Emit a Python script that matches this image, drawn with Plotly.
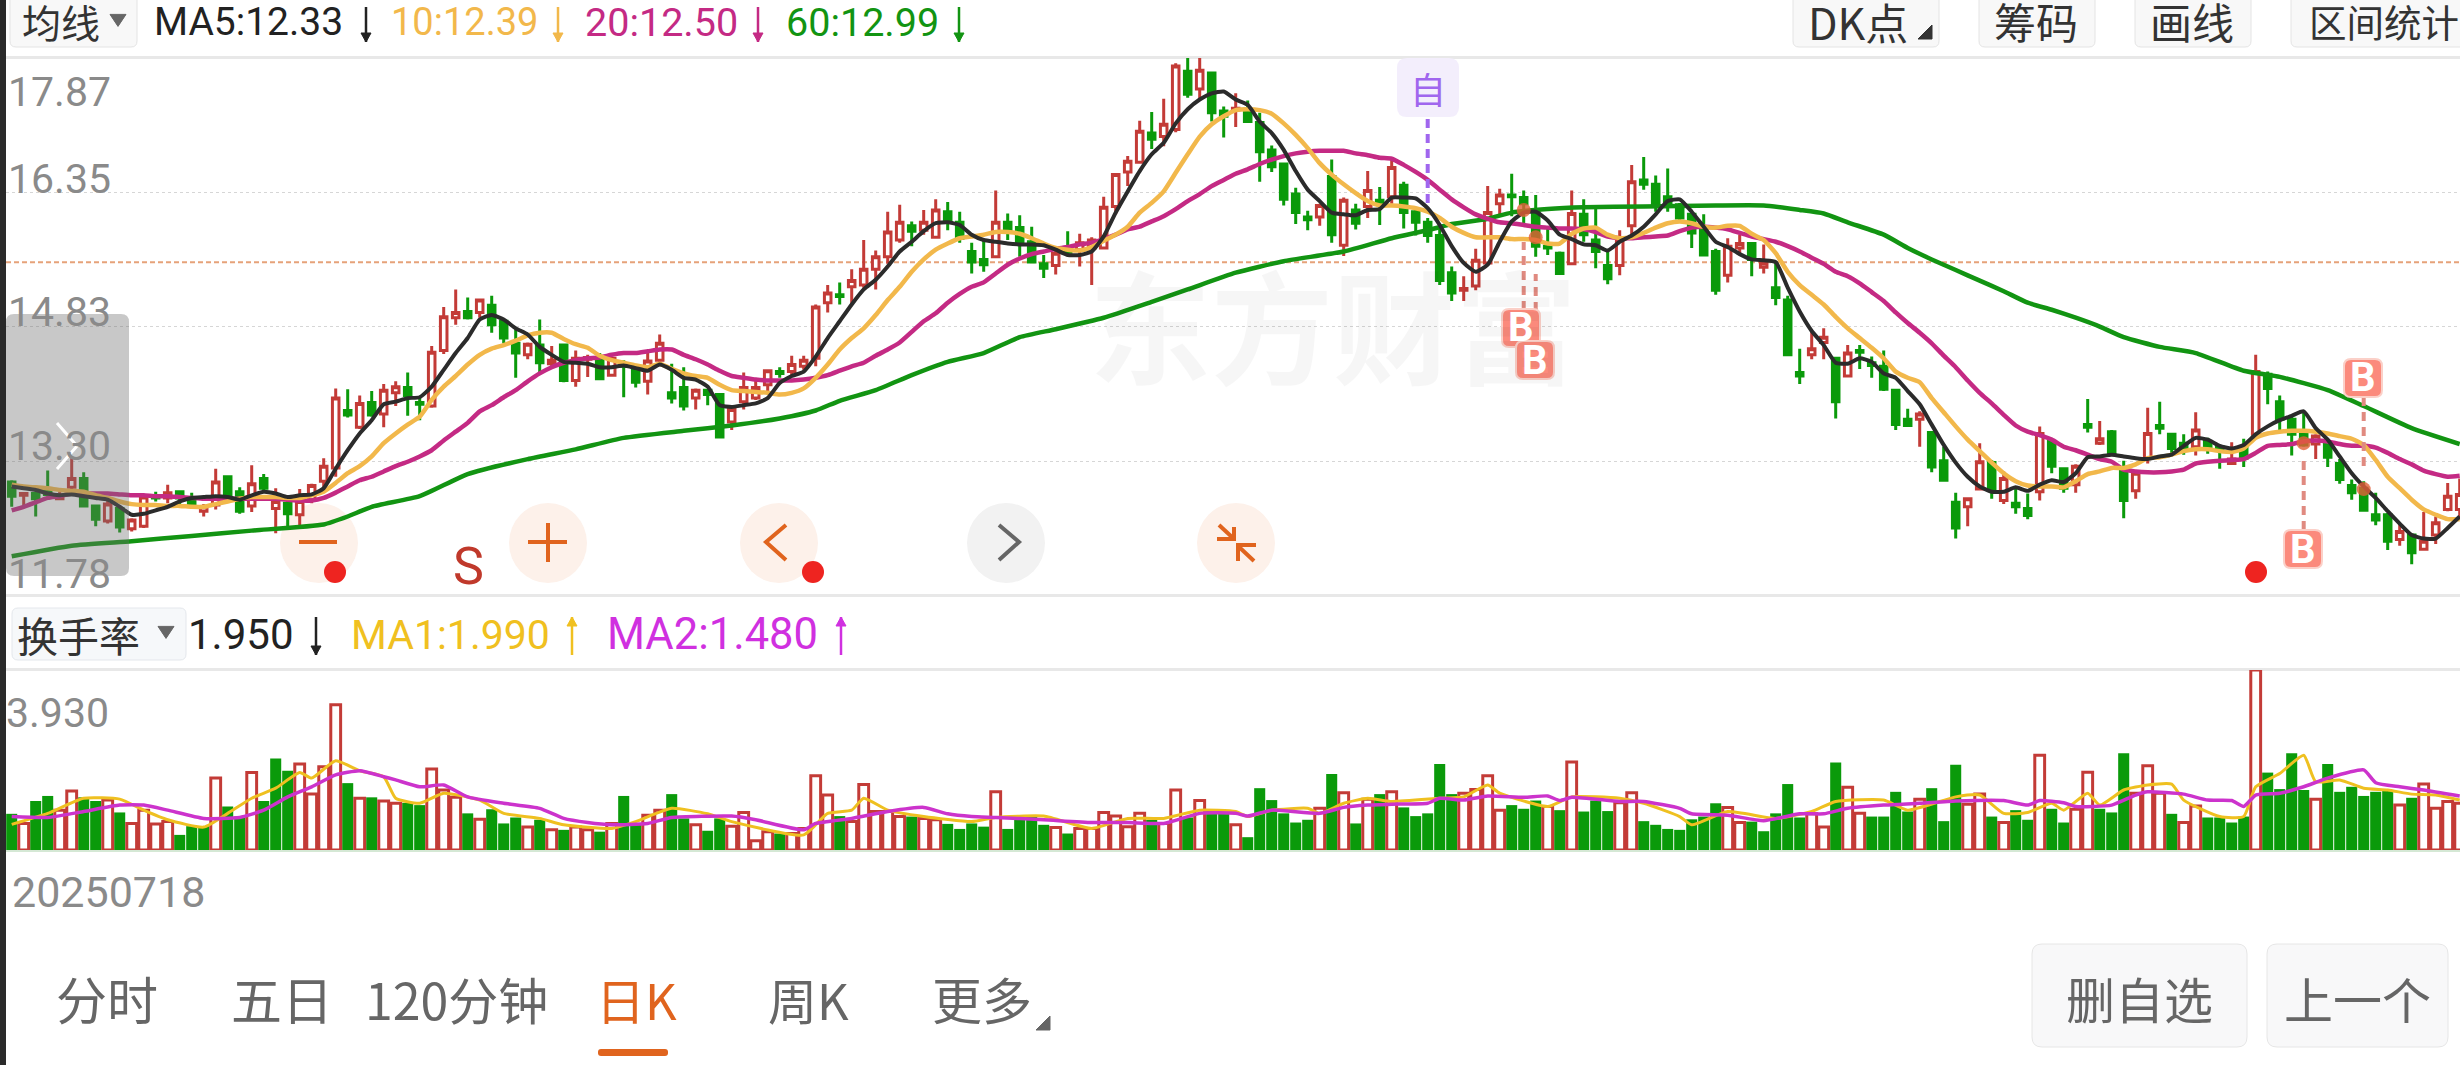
import plotly.graph_objects as go

W, H = 2460, 1065

open_ = [
13.07,12.92,12.94,12.98,12.88,13.01,13.11,12.80,12.63,12.77,
12.54,12.57,12.91,12.89,12.96,12.89,12.74,12.81,13.13,12.96,
12.80,13.11,12.77,12.83,12.70,12.87,13.08,13.23,13.88,13.69,
13.97,13.84,14.08,14.14,13.97,13.93,14.56,14.93,15.00,14.99,
15.07,14.89,14.64,14.51,14.62,14.41,14.62,14.22,14.46,14.46,
14.28,14.41,14.34,14.21,14.45,14.08,14.14,14.02,14.11,14.06,
13.75,13.98,14.02,14.17,14.32,14.32,14.38,14.47,15.10,15.19,
15.28,15.30,15.48,15.62,15.81,15.97,15.92,15.84,16.13,16.01,
15.68,15.59,15.62,16.01,15.95,15.79,15.54,15.52,15.70,15.70,
15.72,15.72,16.19,16.58,16.69,17.02,16.98,17.06,17.72,17.52,
17.70,17.27,17.28,17.29,17.14,16.83,16.67,16.33,16.07,16.07,
16.53,15.75,16.15,16.19,16.26,16.30,16.43,16.13,16.01,15.86,
15.44,15.24,15.29,15.55,16.22,16.32,16.29,16.13,15.74,15.66,
15.54,16.10,15.81,15.52,15.52,15.97,16.49,16.44,16.30,16.21,
16.10,15.93,15.68,15.41,15.72,15.77,15.50,15.27,15.13,14.31,
14.51,14.65,14.47,14.27,14.56,14.42,14.38,14.11,13.78,13.78,
13.63,13.31,12.84,12.79,12.99,13.29,12.86,12.83,12.77,12.96,
13.53,13.22,13.04,13.72,13.51,13.64,13.19,12.97,13.34,13.71,
13.61,13.51,13.47,13.53,13.47,13.28,13.45,13.61,14.29,13.98,
13.78,13.62,13.50,13.51,13.28,13.03,13.00,12.70,12.70,12.42,
12.47,12.31,12.47,12.76,12.76]
high = [
13.09,12.94,12.96,13.20,12.96,13.36,13.18,12.81,12.87,12.79,
12.66,12.92,12.96,13.04,12.97,12.95,12.82,13.22,13.14,13.01,
13.26,13.16,13.00,12.89,12.99,13.05,13.34,14.13,14.12,14.05,
14.10,14.18,14.21,14.31,14.02,14.61,15.05,15.25,15.16,15.14,
15.18,14.91,14.80,14.65,14.91,14.61,14.62,14.56,14.51,14.53,
14.48,14.45,14.36,14.53,14.74,14.41,14.37,14.13,14.11,14.07,
13.93,14.31,14.23,14.34,14.37,14.50,14.50,15.08,15.30,15.33,
15.48,15.81,15.69,16.13,16.21,16.02,16.15,16.27,16.24,16.13,
15.78,15.81,16.37,16.11,16.09,15.96,15.64,15.73,15.91,15.88,
15.84,16.30,16.56,16.76,17.16,17.26,17.41,17.81,17.87,17.87,
17.70,17.32,17.47,17.39,17.25,16.88,16.67,16.40,16.14,16.22,
16.72,16.29,16.22,16.59,16.41,16.72,16.47,16.16,16.06,15.96,
15.51,15.40,15.71,16.42,16.39,16.56,16.37,16.32,15.95,15.68,
16.37,16.27,16.16,15.68,15.92,16.66,16.75,16.54,16.62,16.23,
16.12,16.10,15.71,15.83,15.87,15.78,15.76,15.57,15.18,14.58,
14.78,14.81,14.48,14.62,14.62,14.49,14.56,14.12,13.90,13.87,
13.64,13.47,12.95,12.89,13.51,13.32,13.19,13.00,12.94,13.70,
13.55,13.22,13.27,14.01,13.76,13.66,13.31,13.19,13.91,13.98,
13.62,13.61,13.86,13.57,13.49,13.52,13.56,14.51,14.32,14.05,
13.83,13.87,13.61,13.54,13.33,13.10,13.08,12.95,12.72,12.60,
12.47,12.73,12.68,13.06,13.11]
low = [
12.79,12.81,12.68,12.91,12.87,12.96,12.79,12.57,12.60,12.50,
12.51,12.55,12.85,12.83,12.81,12.77,12.68,12.76,12.90,12.71,
12.73,12.98,12.49,12.57,12.58,12.83,12.98,13.13,13.80,13.67,
13.81,13.69,13.93,13.82,13.77,13.91,14.52,14.85,14.91,14.93,
14.76,14.64,14.25,14.46,14.31,14.38,14.20,14.15,14.26,14.23,
14.27,14.03,14.14,14.06,14.38,13.96,13.88,13.89,13.94,13.57,
13.66,13.89,14.00,14.08,14.25,14.27,14.34,14.38,14.99,15.08,
15.08,15.27,15.25,15.54,15.78,15.74,15.87,15.83,15.92,15.78,
15.43,15.45,15.62,15.81,15.62,15.55,15.38,15.42,15.64,15.51,
15.30,15.71,16.10,16.42,16.68,16.84,16.87,17.03,17.42,17.41,
17.15,16.97,17.09,17.14,16.47,16.58,16.20,15.99,15.92,15.97,
15.78,15.63,15.93,16.06,15.98,16.22,15.94,15.86,15.78,15.30,
15.12,15.12,15.24,15.53,16.08,16.08,15.96,15.62,15.64,15.42,
15.53,15.79,15.49,15.31,15.41,15.86,16.38,16.13,16.13,16.02,
15.72,15.63,15.19,15.33,15.66,15.40,15.43,15.07,14.50,14.18,
14.46,14.46,13.79,14.26,14.35,14.25,14.10,13.66,13.70,13.47,
13.18,13.08,12.43,12.57,12.98,12.88,12.82,12.71,12.65,12.86,
13.17,12.95,12.95,13.63,13.49,13.39,12.66,12.88,13.28,13.61,
13.40,13.38,13.37,13.39,13.22,13.28,13.24,13.61,13.95,13.66,
13.37,13.47,13.33,13.24,13.05,12.87,12.74,12.58,12.30,12.35,
12.14,12.30,12.37,12.74,12.64]
close = [
12.91,12.94,12.88,12.93,12.91,13.11,12.80,12.65,12.82,12.56,
12.64,12.90,12.89,12.95,12.89,12.81,12.79,13.07,12.91,12.74,
13.05,13.00,12.85,12.71,12.85,13.03,13.25,14.02,13.83,13.96,
13.83,14.11,14.15,14.05,13.95,14.54,14.94,14.99,14.93,15.13,
14.85,14.70,14.53,14.63,14.42,14.45,14.22,14.47,14.48,14.24,
14.47,14.38,14.20,14.44,14.64,14.02,13.93,14.11,14.06,13.58,
13.89,14.14,14.14,14.33,14.30,14.40,14.45,15.05,15.21,15.17,
15.35,15.48,15.62,15.90,16.01,15.91,16.01,16.15,16.02,15.83,
15.56,15.53,16.01,15.93,15.78,15.56,15.49,15.66,15.67,15.78,
15.81,16.18,16.55,16.70,17.04,16.95,17.12,17.78,17.46,17.73,
17.25,17.21,17.30,17.15,16.81,16.64,16.27,16.12,16.04,16.20,
15.87,16.26,16.00,16.37,16.23,16.63,16.12,16.01,15.86,15.35,
15.21,15.26,15.58,16.12,16.32,16.30,16.22,15.74,15.72,15.43,
16.11,15.87,15.68,15.37,15.82,16.47,16.44,16.19,16.20,16.06,
15.89,15.64,15.24,15.74,15.77,15.59,15.55,15.16,14.51,14.27,
14.58,14.71,13.98,14.53,14.54,14.39,14.12,13.72,13.71,13.84,
13.24,13.09,12.55,12.88,13.30,12.98,13.11,12.79,12.69,13.62,
13.25,13.00,13.25,13.69,13.56,13.40,12.86,13.17,13.62,13.68,
13.45,13.44,13.66,13.47,13.44,13.33,13.34,14.32,14.13,13.78,
13.61,13.49,13.59,13.35,13.10,12.95,12.75,12.64,12.40,12.51,
12.27,12.40,12.61,12.91,12.93]

ma5 = [
13.02,13.00,12.98,12.94,12.92,12.93,12.91,12.89,12.87,12.79,
12.70,12.71,12.75,12.79,12.85,12.89,12.90,12.91,12.90,12.87,
12.92,12.96,12.94,12.90,12.92,12.93,13.00,13.22,13.43,13.62,
13.77,13.95,13.98,14.02,14.03,14.15,14.34,14.53,14.70,14.91,
14.96,14.91,14.81,14.74,14.60,14.51,14.43,14.42,14.41,14.37,
14.37,14.39,14.36,14.33,14.40,14.34,14.25,14.23,14.15,13.94,
13.92,13.94,13.96,14.02,14.19,14.27,14.32,14.49,14.70,14.89,
15.08,15.25,15.36,15.51,15.68,15.79,15.91,16.00,16.01,15.98,
15.87,15.81,15.79,15.77,15.76,15.76,15.75,15.70,15.64,15.64,
15.68,15.85,16.12,16.36,16.59,16.78,16.91,17.13,17.29,17.40,
17.47,17.49,17.40,17.34,17.15,17.02,16.83,16.59,16.38,16.25,
16.12,16.10,16.09,16.15,16.16,16.29,16.29,16.28,16.17,15.98,
15.74,15.55,15.45,15.53,15.79,16.02,16.12,16.13,16.03,15.87,
15.82,15.76,15.75,15.69,15.79,15.86,15.96,16.10,16.25,16.27,
16.13,15.96,15.79,15.73,15.65,15.59,15.58,15.56,15.27,15.00,
14.78,14.62,14.42,14.41,14.47,14.43,14.30,14.25,14.10,13.95,
13.72,13.49,13.29,13.13,13.02,12.96,12.96,13.01,12.97,13.04,
13.09,13.07,13.17,13.35,13.36,13.38,13.36,13.34,13.33,13.36,
13.38,13.48,13.57,13.55,13.48,13.45,13.49,13.61,13.70,13.77,
13.82,13.87,13.68,13.55,13.36,13.17,13.02,12.89,12.74,12.60,
12.47,12.43,12.43,12.55,12.68]
ma10 = [
13.04,13.02,13.01,13.00,12.98,12.97,12.96,12.92,12.89,12.85,
12.82,12.81,12.81,12.80,12.80,12.79,12.79,12.82,12.85,12.88,
12.90,12.90,12.90,12.89,12.89,12.92,12.96,13.06,13.17,13.25,
13.36,13.51,13.62,13.72,13.81,14.00,14.15,14.27,14.40,14.51,
14.58,14.62,14.67,14.73,14.76,14.76,14.69,14.63,14.59,14.50,
14.45,14.42,14.39,14.37,14.41,14.35,14.30,14.27,14.25,14.17,
14.11,14.10,14.09,14.08,14.06,14.08,14.13,14.25,14.40,14.57,
14.70,14.81,14.96,15.13,15.28,15.45,15.59,15.70,15.77,15.83,
15.85,15.87,15.90,15.90,15.88,15.83,15.77,15.72,15.70,15.69,
15.73,15.80,15.87,15.96,16.12,16.23,16.36,16.57,16.78,16.98,
17.12,17.21,17.28,17.29,17.28,17.24,17.13,17.00,16.85,16.68,
16.55,16.44,16.34,16.25,16.20,16.20,16.19,16.17,16.13,16.06,
15.96,15.89,15.84,15.84,15.84,15.82,15.82,15.81,15.77,15.77,
15.88,15.94,15.95,15.87,15.83,15.84,15.89,15.95,16.00,16.02,
16.00,15.96,15.95,15.97,15.97,15.88,15.81,15.66,15.45,15.30,
15.19,15.08,14.94,14.81,14.70,14.59,14.47,14.32,14.25,14.20,
14.02,13.86,13.70,13.55,13.42,13.29,13.17,13.08,13.03,13.02,
13.02,13.01,13.08,13.16,13.19,13.23,13.23,13.27,13.34,13.35,
13.38,13.42,13.44,13.44,13.42,13.41,13.45,13.57,13.62,13.64,
13.65,13.65,13.64,13.62,13.59,13.56,13.49,13.32,13.13,13.00,
12.87,12.76,12.70,12.65,12.65]
ma20 = [
12.75,12.79,12.84,12.89,12.91,12.94,12.94,12.94,12.94,12.93,
12.92,12.92,12.91,12.91,12.90,12.89,12.88,12.88,12.88,12.88,
12.88,12.88,12.88,12.87,12.86,12.86,12.89,12.95,13.02,13.09,
13.13,13.19,13.25,13.30,13.36,13.43,13.54,13.64,13.74,13.87,
13.94,14.03,14.11,14.21,14.30,14.37,14.42,14.45,14.47,14.48,
14.51,14.53,14.53,14.55,14.57,14.57,14.51,14.46,14.40,14.33,
14.27,14.25,14.23,14.22,14.22,14.22,14.23,14.25,14.28,14.33,
14.38,14.42,14.50,14.57,14.65,14.77,14.89,14.98,15.10,15.20,
15.28,15.33,15.43,15.53,15.60,15.65,15.68,15.71,15.73,15.76,
15.78,15.82,15.87,15.93,15.96,16.02,16.08,16.16,16.25,16.33,
16.42,16.49,16.56,16.61,16.67,16.72,16.76,16.79,16.81,16.82,
16.82,16.82,16.79,16.77,16.74,16.73,16.66,16.58,16.49,16.38,
16.27,16.18,16.10,16.05,16.01,16.00,15.98,15.96,15.95,15.94,
15.94,15.93,15.90,15.85,15.83,15.83,15.84,15.85,15.86,15.91,
15.95,15.96,15.95,15.93,15.89,15.85,15.82,15.79,15.74,15.68,
15.61,15.54,15.45,15.40,15.32,15.22,15.12,14.99,14.87,14.76,
14.64,14.50,14.37,14.22,14.08,13.96,13.83,13.71,13.64,13.60,
13.55,13.47,13.43,13.38,13.33,13.30,13.21,13.19,13.18,13.18,
13.19,13.21,13.28,13.30,13.31,13.32,13.33,13.40,13.48,13.49,
13.50,13.53,13.54,13.53,13.50,13.48,13.48,13.46,13.40,13.33,
13.27,13.20,13.16,13.13,13.14]
ma60_idx = [0,5,10,15,20,26,28,30,34,38,43,47,51,56,60,64,67,69,72,75,78,81,84,87,91,95,98,102,106,111,115,118,120,123,125,128,131,136,142,146,149,151,153,156,158,160,162,164,166,168,170,172,174,176,179,182,186,189,193,196,200,204]
ma60 = [12.23,12.35,12.40,12.46,12.52,12.59,12.68,12.79,12.91,13.16,13.33,13.44,13.57,13.65,13.71,13.79,13.88,13.99,14.11,14.28,14.43,14.53,14.71,14.80,14.93,15.11,15.25,15.44,15.57,15.68,15.83,15.92,15.99,16.05,16.12,16.16,16.18,16.19,16.20,16.20,16.15,16.11,16.01,15.87,15.72,15.59,15.47,15.35,15.23,15.10,15.02,14.93,14.83,14.71,14.60,14.53,14.33,14.26,14.11,13.93,13.68,13.50]

turnover = [
.79,.58,1.07,1.18,.87,1.29,1.15,1.07,1.09,.82,
.58,.87,.57,.62,.33,.52,.52,1.57,.95,.73,
1.69,1.07,2.00,1.73,1.88,1.22,1.82,3.17,1.46,1.13,
1.15,1.07,1.02,1.03,.98,1.77,1.31,1.15,.80,.67,
.89,.58,.71,.50,.66,.44,.44,.50,.44,.40,
.58,1.18,.55,.76,.87,1.22,.69,.55,.42,.69,
.52,.82,.20,.40,.36,.36,.47,1.62,1.20,.74,
.62,1.43,.84,.84,.73,.73,.69,.66,.57,.46,
.58,.51,1.27,.46,.73,.76,.55,.49,.36,.47,
.47,.82,.74,.51,.80,.66,.58,1.31,.71,1.08,
.87,.84,.55,.28,1.35,1.09,.80,.60,.66,.91,
1.66,1.25,.58,1.11,1.22,1.27,.93,.74,.80,1.88,
1.22,1.24,1.32,1.62,.87,.98,.90,1.08,.95,.87,
1.92,.84,1.08,.85,1.03,1.25,.63,.55,.46,.44,
.67,.73,1.02,.93,.60,.62,.41,.80,1.44,.71,
.79,.50,1.91,1.37,.80,.73,.73,1.27,.84,1.11,
1.35,.63,1.86,1.00,1.22,.73,.60,.87,.66,2.07,
.90,.60,.89,1.70,.90,.82,2.11,1.24,1.84,1.24,
.79,.60,.96,.71,.71,.60,.73,3.93,1.69,1.33,
2.11,1.31,1.11,1.88,1.27,1.38,1.18,1.27,1.31,.98,
1.14,1.44,.91,1.06,1.02]
turnover_dir = ("DUDDUUDDUDUUUUDDDUDDUDDDUUUUDUDUUDDUUUDUDDDUDUDUUDUDDUUDDUDDUUUUDUUUUDUUUUUDUUDDDDUDDDDUDUUUUUUDUUDUDD"
                "UDDDDDDUDUDUDUDDDDDUUUUDDDUDUDDDUUDDDDDDDUUDDDDDUUDUUDDDDUDDDUUDUDDUDDUUDDDUUUDUUDDDDUDDDDUDDDDDDUDUUUU")
ma1_idx = [0,3,6,9,11,13,16,18,20,22,24,25,27,29,31,32,34,36,39,41,44,46,50,52,55,58,60,66,68,70,71,73,76,80,82,86,90,93,96,99,102,103,105,108,109,111,113,115,119,121,123,124,128,130,134,136,139,140,143,147,150,152,156,158,162,164,166,168,170,171,173,174,176,178,180,181,184,186,187,189,191,192,194,196,198,200,202,204]
ma1 = [.56,.80,1.13,1.11,.87,.66,.50,.80,1.13,1.35,1.69,1.57,1.95,1.73,1.60,1.13,1.02,1.24,1.09,.80,.69,.55,.47,.62,.91,.79,.62,.33,.80,.87,1.13,.87,.73,.62,.71,.74,.47,.69,.69,.87,.84,.73,.87,.91,.80,1.02,1.13,1.06,1.13,1.16,1.42,1.24,.95,1.16,1.13,1.02,.73,.55,.84,.69,.84,1.06,1.09,.87,1.16,1.20,.80,.82,1.02,.87,1.24,.98,1.31,1.42,1.44,1.09,.73,.73,1.38,1.67,2.07,1.49,1.53,1.35,1.31,1.22,1.20,1.09]
ma2_idx = [0,3,6,9,11,13,16,19,21,23,25,27,29,31,32,34,36,38,41,44,46,48,50,53,55,60,62,66,67,70,73,76,78,80,82,86,90,93,96,99,102,103,105,109,111,113,115,118,119,121,123,126,128,129,130,134,136,139,140,143,146,149,151,153,156,159,162,166,168,169,171,172,175,177,178,181,183,185,186,187,189,191,193,196,197,199,201,204]
ma2 = [.73,.71,.84,.98,.98,.87,.69,.71,.87,1.16,1.38,1.64,1.73,1.60,1.53,1.38,1.42,1.16,1.02,.91,.69,.60,.55,.58,.71,.74,.66,.44,.58,.69,.84,.93,.79,.73,.71,.66,.60,.60,.58,.80,.80,.74,.87,.80,.93,.98,1.00,1.02,1.13,1.09,1.18,1.15,1.18,1.08,1.15,1.06,1.06,.91,.79,.76,.64,.79,.79,.91,.98,1.02,1.07,1.08,.98,1.08,1.03,.95,.98,1.20,1.27,1.22,1.09,1.08,.95,1.20,1.24,1.38,1.57,1.75,1.47,1.38,1.31,1.18]

price_ticks = [17.87, 16.35, 14.83, 13.30, 11.78]
price_grid = [16.35, 14.83, 13.30]
prev_close = 15.557
turnover_top = 3.93
date_label = "20250718"
signal_idx = [126, 127, 191, 196]
signal_price = [16.15, 15.84, 13.51, 12.99]
self_idx = 118

PLOT_TOP, PLOT_BOT = 58, 596
SUB_TOP, SUB_BOT = 670, 850
PX0, PXSTEP = 11.7, 12.0
RED, GREEN = "#c33b37", "#0a9a0a"
ROB, CJK = "Roboto", "Noto Sans CJK SC"

def X(px): return px / W
def Y(py): return 1 - py / H
def ipx(i): return PX0 + PXSTEP * i

shapes, notes = [], []

def rrect(x0, y0, x1, y1, r, fill, line=None, layer="below", lw=1):
    rx, ry = r / W, r / H
    a, b, c, d = X(x0), Y(y0), X(x1), Y(y1)
    path = (f"M{a+rx},{b} L{c-rx},{b} Q{c},{b} {c},{b-ry} L{c},{d+ry} Q{c},{d} {c-rx},{d} "
            f"L{a+rx},{d} Q{a},{d} {a},{d+ry} L{a},{b-ry} Q{a},{b} {a+rx},{b} Z")
    shapes.append(dict(type="path", xref="paper", yref="paper", path=path, fillcolor=fill,
                       line=dict(color=line or fill, width=lw if line else 0), layer=layer))

def rect(x0, y0, x1, y1, fill, layer="below"):
    shapes.append(dict(type="rect", xref="paper", yref="paper", x0=X(x0), x1=X(x1), y0=Y(y0), y1=Y(y1),
                       fillcolor=fill, line=dict(width=0), layer=layer))

def circle(cx, cy, rx, ry, fill, layer="below"):
    shapes.append(dict(type="circle", xref="paper", yref="paper", x0=X(cx-rx), x1=X(cx+rx), y0=Y(cy-ry), y1=Y(cy+ry),
                       fillcolor=fill, line=dict(width=0), layer=layer))

def poly(pts, color, width=3, fill=None, layer="above"):
    d = "M" + " L".join(f"{X(x)},{Y(y)}" for x, y in pts) + (" Z" if fill else "")
    s = dict(type="path", xref="paper", yref="paper", path=d, line=dict(color=color, width=width), layer=layer)
    if fill:
        s["fillcolor"] = fill
    shapes.append(s)

def vdash(x, y0, y1, color, width=4, dash="9px,6px"):
    shapes.append(dict(type="line", xref="paper", yref="paper", x0=X(x), x1=X(x), y0=Y(y0), y1=Y(y1),
                       line=dict(color=color, width=width, dash=dash), layer="above"))

def text(x, y, s, size, color, font=ROB, anchor="left", bold=False):
    if bold:
        s = f"<b>{s}</b>"
    notes.append(dict(xref="paper", yref="paper", x=X(x), y=Y(y), text=s, showarrow=False, xanchor=anchor,
                      yanchor="middle", font=dict(size=size, color=color, family=font), borderpad=0, borderwidth=0))

def arrow(x, y0, y1, color, down=True):
    poly([(x, y0), (x, y1)], color, 2.5)
    tip, base = (y1, y1 - 9) if down else (y1, y1 + 9)
    poly([(x - 5, base), (x, tip), (x + 5, base)], color, 1, fill=color)

def tri_down(x, y, s, color):
    poly([(x - s, y - s * .7), (x + s, y - s * .7), (x, y + s * .8)], color, 1, fill=color)

def tri_corner(x, y, s, color):
    poly([(x + s, y - s), (x + s, y + s), (x - s, y + s)], color, 1, fill=color)

# --- page chrome
rect(0, 0, 6, H, "#2a2a2a", layer="above")
rect(6, 56, W, 59, "#e8e8e8")
rect(6, 594, W, 597, "#e8e8e8")
rect(6, 668, W, 671, "#e8e8e8")

# top row
for x0, x1 in [(10, 137), (1793, 1939), (1979, 2095), (2135, 2251), (2291, 2470)]:
    rrect(x0, -10, x1, 47, 6, "#f8f8f8", "#e4e4e4")
text(22, 21, "均线", 39, "#333333", CJK)
tri_down(118, 20, 8, "#666666")
text(154, 22, "MA5:12.33", 39, "#222222"); arrow(366, 7, 42, "#222222")
text(391, 22, "10:12.39", 38, "#f2b84b"); arrow(558, 7, 42, "#f2b84b")
text(585, 22, "20:12.50", 39.5, "#c42a84"); arrow(758, 7, 42, "#c42a84")
text(786, 22, "60:12.99", 39.5, "#129412"); arrow(959, 7, 42, "#129412")
text(1808, 21, "DK点", 43, "#333333", CJK); tri_corner(1925, 32, 7, "#333333")
text(2036, 21, "筹码", 42, "#333333", CJK, anchor="center")
text(2192, 21, "画线", 42, "#333333", CJK, anchor="center")
text(2309, 21, "区间统计", 37.5, "#333333", CJK)

# price labels
for lab, y in zip(price_ticks, [92, 179, 312, 446, 574]):
    text(8, y, f"{lab:.2f}", 41, "#8a8a8a", ROB)

# watermark
text(1333, 322, "东方财富", 122, "rgba(0,0,0,0.035)", CJK, anchor="center", bold=True)

# grey slide handle
rrect(6, 314, 129, 576, 8, "rgba(110,110,110,0.38)", layer="above")
poly([(57, 423), (77, 446), (57, 469)], "#ffffff", 3)

# circular buttons
ORANGE = "#e0641e"
for cx, col in [(319, "#fdf1ea"), (548, "#fdf1ea"), (779, "#fdf1ea"), (1006, "#f2f2f2"), (1236, "#fdf1ea")]:
    circle(cx, 543, 39, 40, col)
poly([(299, 542), (337, 542)], ORANGE, 4)
poly([(528, 542), (567, 542)], ORANGE, 4)
poly([(548, 523), (548, 562)], ORANGE, 4)
poly([(786, 525), (766, 542), (786, 560)], ORANGE, 4)
poly([(999, 525), (1019, 542), (999, 560)], "#666666", 4)
poly([(1219, 525), (1233, 538)], ORANGE, 4)
poly([(1217, 539), (1234, 539), (1234, 527)], ORANGE, 4)
poly([(1254, 561), (1238, 546)], ORANGE, 4)
poly([(1256, 545), (1238, 545), (1238, 561)], ORANGE, 4)
for cx in (335, 813, 2256):
    circle(cx, 572, 11, 11, "#ee2420", layer="above")
text(468, 566, "S", 52, "#c0392b", ROB, anchor="center")

# self-selected marker
rrect(1397, 58, 1459, 117, 10, "#f3eefc", layer="above")
text(ipx(self_idx), 88, "自", 36, "#a066ee", CJK, anchor="center")
vdash(ipx(self_idx), 119, 207, "#a066ee")

# B signal tags
SALMON = "#fb8a7c"
tags = [(1521, 328, 310, 242), (1535, 360, 341, 274), (2303, 549, 530, 461), (2363, 378, 397, 466)]
for (cx, cy, ya, yb), idx in zip(tags, signal_idx):
    vdash(ipx(idx), ya, yb, "#e08a80")
for cx, cy, ya, yb in tags:
    rrect(cx - 19, cy - 19, cx + 19, cy + 19, 7, SALMON, "#fbd0c8", layer="above", lw=2)
    text(cx, cy, "B", 40, "#ffffff", ROB, anchor="center", bold=True)

# turnover legend
rrect(12, 608, 186, 660, 6, "#f6f8fa", "#e4e7ec")
text(17, 634, "换手率", 41, "#333333", CJK)
tri_down(166, 632, 8, "#666666")
text(188, 635, "1.950", 42, "#222222"); arrow(316, 617, 655, "#222222")
text(351, 635, "MA1:1.990", 41, "#f0c020"); arrow(572, 655, 617, "#f0c020", down=False)
text(607, 635, "MA2:1.480", 43.5, "#d030e0"); arrow(841, 655, 617, "#d030e0", down=False)
text(6, 713, f"{turnover_top:.3f}", 41, "#8a8a8a")
text(12, 892, date_label, 43, "#8a8a8a")

# bottom tabs
TABC = "#666666"
text(56, 998, "分时", 51, TABC, CJK)
text(231, 998, "五日", 51, TABC, CJK)
text(365, 998, "120分钟", 50, TABC, CJK)
text(596, 998, "日K", 49, ORANGE, CJK)
text(768, 998, "周K", 49, TABC, CJK)
text(932, 998, "更多", 50, TABC, CJK)
tri_corner(1043, 1023, 7, TABC)
rrect(598, 1049, 668, 1056, 3, ORANGE)
rrect(2032, 944, 2247, 1047, 10, "#f8f8f9", "#e6e6e6")
rrect(2267, 944, 2448, 1047, 10, "#f8f8f9", "#e6e6e6")
text(2139, 997, "删自选", 49, TABC, CJK, anchor="center")
text(2357, 997, "上一个", 49, TABC, CJK, anchor="center")

# previous-close dashed line
shapes.append(dict(type="line", xref="paper", yref="y", x0=X(6), x1=1, y0=prev_close, y1=prev_close,
                   line=dict(color="#e6a27a", width=2, dash="5px,3px"), layer="below"))

fig = go.Figure()
idx = list(range(len(close)))
fig.add_trace(go.Candlestick(
    x=idx, open=open_, high=high, low=low, close=close,
    increasing=dict(line=dict(color=RED, width=3), fillcolor="#ffffff"),
    decreasing=dict(line=dict(color=GREEN, width=3), fillcolor=GREEN),
    whiskerwidth=0, hoverinfo="skip", xaxis="x", yaxis="y"))

def line(x, y, color, width, ax="y", xax="x"):
    fig.add_trace(go.Scatter(x=x, y=y, mode="lines", line=dict(color=color, width=width, shape="spline", smoothing=0.5),
                             hoverinfo="skip", xaxis=xax, yaxis=ax))

line(ma60_idx, ma60, "#129412", 4.5)
line(idx, ma20, "#c42a84", 4.5)
line(idx, ma10, "#f2b84b", 4.5)
line(idx, ma5, "#2b2b2b", 4)

fig.add_trace(go.Scatter(x=signal_idx, y=signal_price, mode="markers",
                         marker=dict(size=14, color="rgba(226,96,56,0.8)"), hoverinfo="skip"))

down_x = [i for i in idx if turnover_dir[i] == "D"]
up_x = [i for i in idx if turnover_dir[i] == "U"]
fig.add_trace(go.Bar(x=down_x, y=[turnover[i] for i in down_x], width=0.92, marker=dict(color=GREEN, line=dict(width=0)),
                     hoverinfo="skip", xaxis="x2", yaxis="y2"))
fig.add_trace(go.Bar(x=up_x, y=[turnover[i] for i in up_x], width=0.82, marker=dict(color="#ffffff", line=dict(color=RED, width=3)),
                     hoverinfo="skip", xaxis="x2", yaxis="y2"))
line(ma1_idx, ma1, "#efc020", 3, "y2", "x2")
line(ma2_idx, ma2, "#cc33cc", 3.5, "y2", "x2")

xr = [-PX0 / PXSTEP, (W - PX0) / PXSTEP]
fig.update_layout(
    width=W, height=H, margin=dict(l=0, r=0, t=0, b=0), autosize=False,
    paper_bgcolor="#ffffff", plot_bgcolor="rgba(0,0,0,0)", showlegend=False, barmode="overlay", boxgap=0.22,
    shapes=shapes, annotations=notes, hovermode=False,
    xaxis=dict(domain=[0, 1], range=xr, visible=False, rangeslider=dict(visible=False), anchor="y"),
    yaxis=dict(domain=[Y(PLOT_BOT), Y(PLOT_TOP)], range=[11.78, 17.87], tickvals=price_grid, showticklabels=False,
               ticks="", showgrid=True, gridcolor="#d6d6d6", griddash="dot", gridwidth=1, zeroline=False, showline=False, anchor="x"),
    xaxis2=dict(domain=[0, 1], range=xr, showticklabels=False, ticks="", showgrid=False, zeroline=False,
                showline=True, linecolor="#d5e8d5", linewidth=2, anchor="y2"),
    yaxis2=dict(domain=[Y(SUB_BOT), Y(SUB_TOP)], range=[0, turnover_top], showticklabels=False, ticks="",
                showgrid=False, zeroline=False, showline=False, anchor="x2"),
)

fig.write_html("out.html", config={"displayModeBar": False, "responsive": False},
               post_script="document.body.style.margin='0';document.documentElement.style.overflow='hidden';document.body.style.overflow='hidden';")
